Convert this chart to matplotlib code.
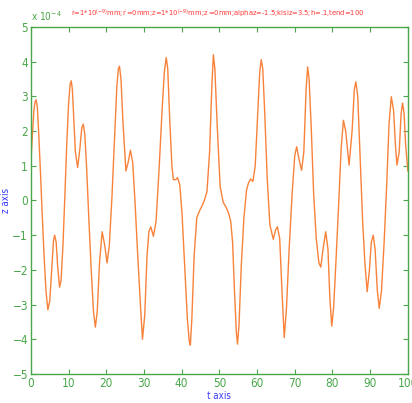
import matplotlib
matplotlib.use("Agg")
import matplotlib.pyplot as plt

# z(t), in units of 1e-4
t_values = [
    0, 0.4, 0.8, 1.1, 1.4, 1.7, 2.0, 2.5, 3.0, 3.5, 4.0, 4.5, 5.0, 5.5, 6.0, 6.3, 6.7, 7.1, 7.6, 8.0,
    8.5, 9.0, 9.5, 10.0, 10.4, 10.7, 11.0, 11.4, 11.8, 12.4, 13.0, 13.5, 13.9, 14.3, 14.8, 15.4, 16.0,
    16.6, 17.1, 17.6, 18.2, 18.9, 19.6, 20.2, 20.8, 21.5, 22.2, 22.8, 23.2, 23.5, 23.9, 24.4, 25.2,
    25.8, 26.4, 27.0, 27.6, 28.3, 29.0, 29.6, 30.2, 30.8, 31.3, 31.8, 32.5, 33.2, 34.0, 34.8, 35.4,
    35.9, 36.3, 36.8, 37.4, 37.8, 38.4, 38.9, 39.5, 40.1, 40.8, 41.5, 42.0, 42.3, 42.7, 43.3, 44.0,
    44.7, 45.3, 46.0, 46.7, 47.4, 48.0, 48.4, 48.8, 49.4, 50.2, 51.0, 51.8, 52.4, 53.0, 53.5, 54.0,
    54.5, 54.8, 55.2, 55.8, 56.5, 57.2, 57.7, 58.3, 58.9, 59.5, 60.2, 60.7, 61.1, 61.5, 62.0, 62.7,
    63.4, 64.3, 64.9, 65.4, 66.0, 66.6, 67.2, 67.8, 68.5, 69.3, 70.0, 70.5, 71.1, 71.8, 72.4, 73.0,
    73.4, 73.8, 74.4, 75.0, 75.7, 76.4, 76.9, 77.5, 78.2, 78.8, 79.3, 79.8, 80.3, 80.9, 81.6, 82.3,
    82.9, 83.5, 84.4, 85.2, 85.8, 86.2, 86.7, 87.3, 88.0, 88.6, 89.2, 89.8, 90.3, 90.8, 91.3, 91.9,
    92.4, 93.0, 93.7, 94.4, 95.0, 95.6, 96.2, 96.7, 97.1, 97.7, 98.2, 98.6, 99.0, 99.4, 100,
]
z_values = [
    1.1, 1.9, 2.6, 2.85, 2.9, 2.7, 2.1, 0.9, -0.4, -1.6, -2.6, -3.15, -2.9, -2.0, -1.15, -1.0, -1.2, -1.9, -2.5, -2.3,
    -1.3, 0.1, 1.6, 2.8, 3.35, 3.45, 3.2, 2.3, 1.4, 0.95, 1.5, 2.1, 2.2, 1.9, 0.9, -0.6, -2.0,
    -3.2, -3.65, -3.2, -1.8, -0.9, -1.3, -1.8, -1.3, 0.1, 1.8, 3.3, 3.8, 3.87, 3.5, 2.3, 0.85,
    1.1, 1.45, 1.1, 0.0, -1.5, -2.9, -4.0, -3.3, -1.6, -0.9, -0.76, -1.03, -0.6, 0.9, 2.6, 3.7,
    4.12, 3.8, 2.4, 1.0, 0.6, 0.6, 0.66, 0.45, -0.4, -1.9, -3.4, -4.05, -4.17, -3.4, -1.6, -0.5,
    -0.3, -0.18, 0.0, 0.25, 1.4, 3.3, 4.2, 3.8, 2.2, 0.4, -0.05, -0.2, -0.35, -0.6, -1.2, -2.6,
    -3.8, -4.14, -3.6, -1.9, -0.5, 0.3, 0.5, 0.62, 0.55, 1.0, 2.6, 3.7, 4.06, 3.8, 2.6, 0.6,
    -0.7, -1.12, -0.85, -0.76, -1.1, -2.6, -3.95, -3.1, -1.4, 0.2, 1.3, 1.55, 1.2, 0.87, 1.4, 3.2,
    3.85, 3.5, 2.0, 0.2, -1.1, -1.8, -1.92, -1.4, -0.9, -1.4, -2.8, -3.62, -3.1, -1.8, -0.2, 1.5,
    2.31, 2.0, 1.02, 2.0, 3.2, 3.42, 3.0, 1.3, -0.6, -1.8, -2.63, -2.0, -1.2, -1.0, -1.4, -2.6,
    -3.11, -2.6, -1.2, 0.5, 2.2, 2.99, 2.6, 1.6, 1.02, 1.4, 2.5, 2.81, 2.5, 1.6, 0.85,
]

x_ticks = list(range(0, 101, 10))
y_ticks = list(range(-5, 6))

title_text = (r"r=1*10$^{(-9)}$mm;r$^{\prime}$=0mm;z=1*10$^{(-9)}$mm;z$^{\prime}$=0mm;"
              r"alphaz=-1.5;kisiz=3.5;h=.1,tend=100")

plt.rcParams['font.family'] = ['DejaVu Sans', 'Liberation Sans']
plt.rcParams['font.stretch'] = 'condensed'
plt.rcParams['mathtext.fontset'] = 'custom'
plt.rcParams['mathtext.rm'] = 'DejaVu Sans:stretch=condensed'
plt.rcParams['mathtext.it'] = 'DejaVu Sans:stretch=condensed'

green = '#4aa64a'
fig = plt.figure(figsize=(4.12, 4.03), dpi=100)
ax = fig.add_axes([0.075, 0.072, 0.915, 0.861])

ax.plot(t_values, z_values, color='#f8823a', linewidth=1.0)

ax.set_xlim(0, 100)
ax.set_ylim(-5, 5)
ax.set_xticks(x_ticks)
ax.set_yticks(y_ticks)
for spine in ax.spines.values():
    spine.set_color(green)
    spine.set_linewidth(1.0)
ax.tick_params(direction='in', top=True, right=True, length=3.5, width=0.8,
               colors=green, labelsize=8.5, pad=2)

ax.set_xlabel('t axis', color='#3a3aff', fontsize=7, labelpad=1)
ax.set_ylabel('z axis', color='#3a3aff', fontsize=7, labelpad=1)
fig.text(0.527, 0.965, title_text, color='#ff3535', fontsize=5.4, ha='center', va='center')
fig.text(0.075, 0.948, r'x 10$^{-4}$', color=green, fontsize=7.2)

fig.savefig('out.png', dpi=100)
